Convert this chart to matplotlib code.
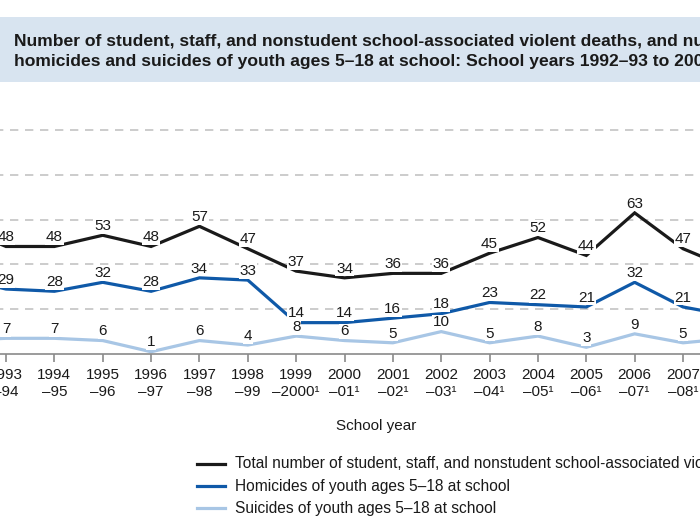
import matplotlib
matplotlib.use("Agg")
import matplotlib.pyplot as plt
from matplotlib.patches import Rectangle

# School-associated violent deaths, 1992-93 to 2008-09
years = ["1992\n\u201393", "1993\n\u201394", "1994\n\u201395", "1995\n\u201396",
         "1996\n\u201397", "1997\n\u201398", "1998\n\u201399", "1999\n\u20132000\u00b9",
         "2000\n\u201301\u00b9", "2001\n\u201302\u00b9", "2002\n\u201303\u00b9",
         "2003\n\u201304\u00b9", "2004\n\u201305\u00b9", "2005\n\u201306\u00b9",
         "2006\n\u201307\u00b9", "2007\n\u201308\u00b9", "2008\n\u201309\u00b9"]
total = [57, 48, 48, 53, 48, 57, 47, 37, 34, 36, 36, 45, 52, 44, 63, 47, 38]
homicides = [34, 29, 28, 32, 28, 34, 33, 14, 14, 16, 18, 23, 22, 21, 32, 21, 17]
suicides = [6, 7, 7, 6, 1, 6, 4, 8, 6, 5, 10, 5, 8, 3, 9, 5, 7]
grid_vals = [20, 40, 60, 80, 100]

labels = ["Total number of student, staff, and nonstudent school-associated violent deaths",
          "Homicides of youth ages 5\u201318 at school",
          "Suicides of youth ages 5\u201318 at school"]
colors = ["#1a1a1a", "#0f59a8", "#a8c6e5"]
title = ("Number of student, staff, and nonstudent school-associated violent deaths, and number of\n"
         "homicides and suicides of youth ages 5\u201318 at school: School years 1992\u201393 to 2008\u201309")

plt.rcParams['font.family'] = ['Liberation Sans', 'DejaVu Sans']
FS = 11

W, H = 700, 525
fig = plt.figure(figsize=(7, 5.25), dpi=100)

# axes is wider than the picture, only the middle part shows
y0, ppu = 354, 2.24
ax = fig.add_axes([0, 1 - y0 / H, 1, 101 * ppu / H])
x = list(range(len(years)))

for g in grid_vals:
    ax.axhline(g, color="#c4c4c4", lw=1.2, ls=(3, (5, 4)), zorder=0)

for series, c in zip([suicides, homicides, total], colors[::-1]):
    ax.plot(x, series, color=c, lw=2.3, solid_joinstyle="miter", zorder=2)
    for xi, v in zip(x, series):
        ax.annotate(str(v), (xi, v), xytext=(0, 3.8), textcoords="offset points",
                    ha="center", va="baseline", fontsize=FS, color="#1a1a1a",
                    bbox=dict(boxstyle="square,pad=0.05", fc="white", ec="none"),
                    annotation_clip=False, zorder=3)

for s in ["left", "right", "top"]:
    ax.spines[s].set_visible(False)
ax.spines["bottom"].set_color("#8a8a8a")
ax.spines["bottom"].set_linewidth(1.2)
ax.set_yticks([])
ax.set_xticks(x)
ax.set_xticklabels(years, fontsize=FS, color="#1a1a1a", linespacing=1.25)
ax.tick_params(axis="x", length=5.5, width=1.2, color="#8a8a8a", pad=4.5)
# limits after the ticks, set_xticks would widen them
ax.set_xlim(0.876, 15.351)
ax.set_ylim(0, 101)

fig.text(376 / W, 1 - 426 / H, "School year", ha="center", va="center",
         fontsize=FS, color="#1a1a1a")

# title band
fig.patches.append(Rectangle((0, 1 - 82 / H), 1, 65 / H, transform=fig.transFigure,
                             fc="#d8e4f0", ec="none", zorder=0))
fig.text(14 / W, 1 - 51.5 / H, title, ha="left", va="center", fontsize=12.6,
         fontweight="bold", color="#1a1a1a", linespacing=1.45)

# legend drawn by hand
for i, (lab, c) in enumerate(zip(labels, colors)):
    yy = 1 - (464 + 22 * i) / H
    fig.add_artist(plt.Line2D([197 / W, 225 / W], [yy, yy], color=c, lw=2.3,
                              transform=fig.transFigure))
    fig.text(235 / W, yy, lab, ha="left", va="center", fontsize=11.2, color="#1a1a1a")

fig.savefig("out.png", dpi=100)
